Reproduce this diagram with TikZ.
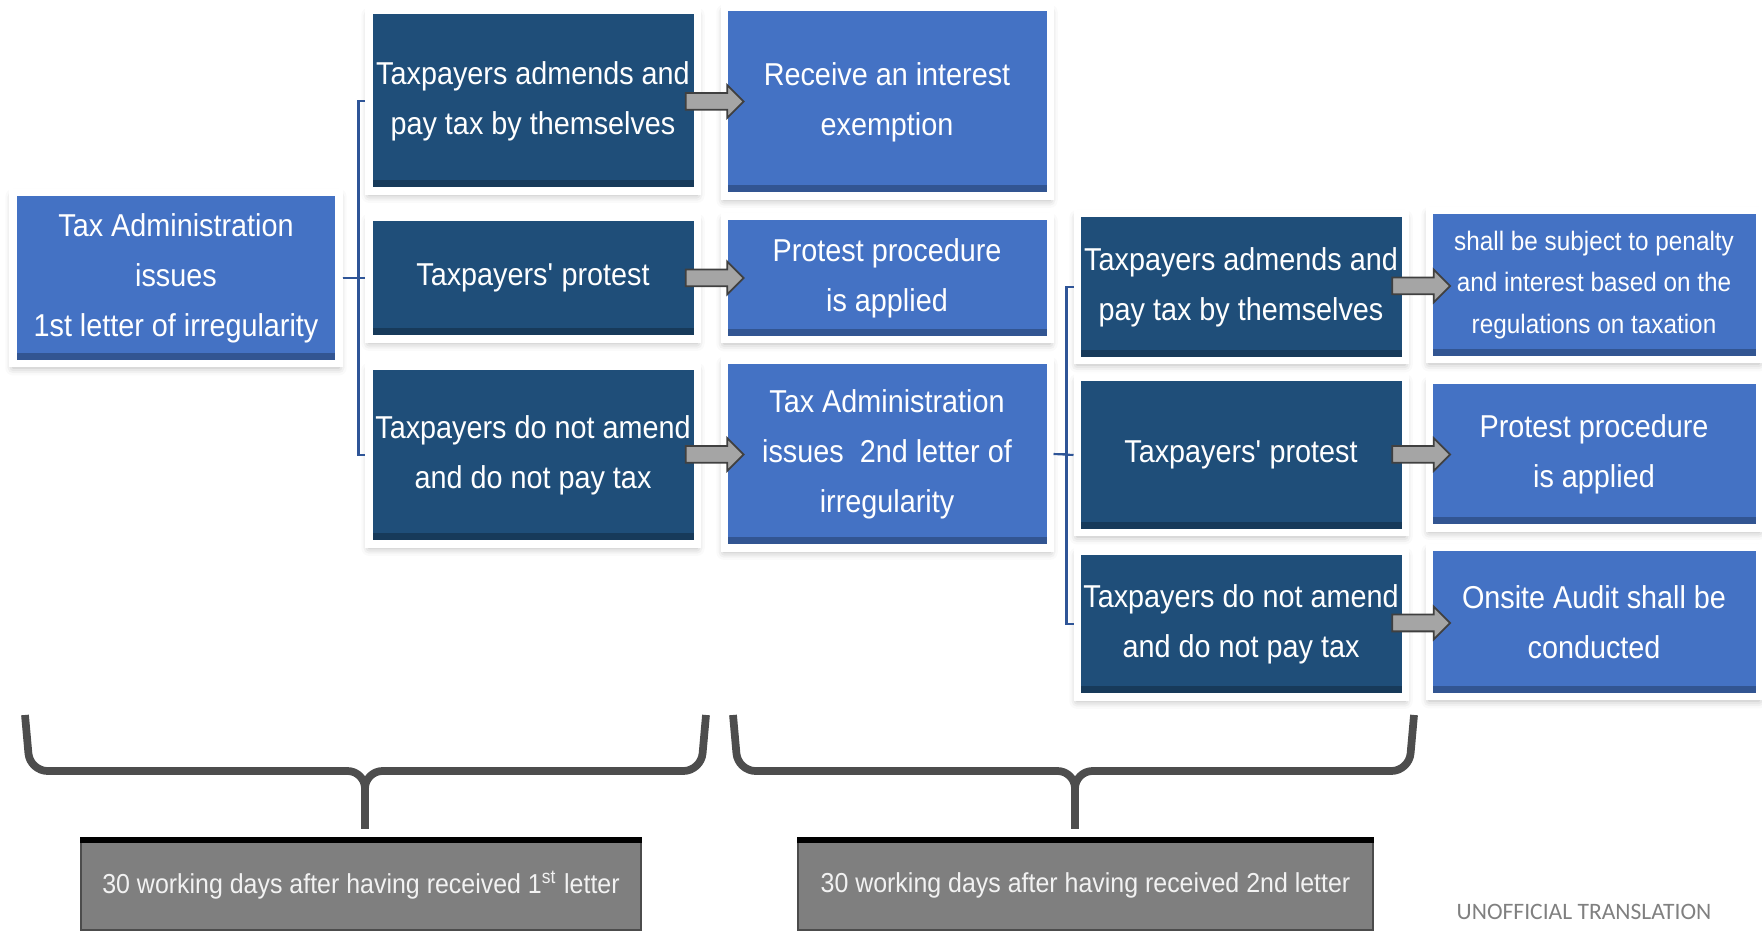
\documentclass[tikz,border=0pt]{standalone}
\usepackage{fontspec}
\setmainfont{Liberation Sans}[FakeStretch=0.91]
\newfontfamily\notefont{Carlito}
\usepackage{tikz}
\usetikzlibrary{
    arrows.meta,
    shadows.blur,
    calc,
    shapes.arrows
}

\definecolor{boxblue}{HTML}{4472C4}
\definecolor{boxnavy}{HTML}{1F4E79}
\definecolor{linkblue}{HTML}{2F5597}
\definecolor{arrowgray}{HTML}{A5A5A5}
\definecolor{bracegray}{HTML}{4D4D4D}
\definecolor{daygray}{HTML}{7F7F7F}

\begin{document}
\begin{tikzpicture}[
    stepbox/.style={
      draw=white,
      line width=2pt,
      text=white,
      align=center,
      inner sep=0pt,
      font=\fontsize{9}{14.2}\selectfont,
      blur shadow={shadow xshift=0pt, shadow yshift=-1.2pt,
        shadow blur radius=2.2pt, shadow opacity=30},
      path picture={\fill[black, opacity=0.25]
        (path picture bounding box.south west) rectangle
        ([yshift=3pt]path picture bounding box.south east);}
    },
    bluebox/.style={stepbox, fill=boxblue, minimum width=3.26cm},
    navybox/.style={stepbox, fill=boxnavy, minimum width=3.28cm},
    link/.style={draw=linkblue, line width=0.6pt},
    blockarrow/.style={
      single arrow,
      draw=black!75,
      fill=arrowgray,
      line width=0.5pt,
      inner sep=0.075cm,
      single arrow head extend=0.08cm,
      minimum height=0.58cm
    },
    bracket/.style={draw=bracegray, line width=2.2pt, rounded corners=5pt},
    daybox/.style={
      fill=daygray,
      draw=black!70,
      line width=0.5pt,
      text=white!95!black,
      font=\fontsize{7.8}{10}\selectfont,
      minimum height=0.89cm,
      inner sep=0pt
    }
  ]

  \useasboundingbox (0,0) rectangle (17.62,9.30);
  \clip (0,0) rectangle (17.62,9.30);

  % first letter {{{
  \node[
    bluebox,
    minimum height=1.71cm
  ] (txa) at (1.76,6.52)
  {Tax Administration\\issues\\1st letter of irregularity};
  % }}}

  % answers to first letter {{{
  \node[
    navybox,
    minimum height=1.80cm
  ] (c2a) at (5.33,8.29)
  {Taxpayers admends and\\pay tax by themselves};
  \node[
    navybox,
    minimum height=1.22cm
  ] (c2b) at (5.33,6.52)
  {Taxpayers\textquotesingle\ protest};
  \node[
    navybox,
    minimum height=1.78cm
  ] (c2c) at (5.33,4.75)
  {Taxpayers do not amend\\and do not pay tax};
  % }}}

  % results of first letter {{{
  \node[
    bluebox,
    minimum height=1.88cm
  ] (c3a) at (8.87,8.28)
  {Receive an interest\\exemption};
  \node[
    bluebox,
    minimum height=1.23cm
  ] (c3b) at (8.87,6.52)
  {Protest procedure\\is applied};
  \node[
    bluebox,
    minimum height=1.88cm
  ] (c3c) at (8.87,4.76)
  {Tax Administration\\issues\ \ 2nd letter of\\irregularity};
  % }}}

  % answers to second letter {{{
  \node[
    navybox,
    minimum height=1.47cm
  ] (c4a) at (12.41,6.43)
  {Taxpayers admends and\\pay tax by themselves};
  \node[
    navybox,
    minimum height=1.55cm
  ] (c4b) at (12.41,4.75)
  {Taxpayers\textquotesingle\ protest};
  \node[
    navybox,
    minimum height=1.46cm
  ] (c4c) at (12.41,3.06)
  {Taxpayers do not amend\\and do not pay tax};
  % }}}

  % results of second letter {{{
  \node[
    bluebox,
    minimum width=3.30cm,
    minimum height=1.49cm,
    font=\fontsize{7.6}{11.8}\selectfont
  ] (c5a) at (15.94,6.45)
  {shall be subject to penalty\\and interest based on the\\regulations on taxation};
  \node[
    bluebox,
    minimum width=3.30cm,
    minimum height=1.48cm
  ] (c5b) at (15.94,4.76)
  {Protest procedure\\is applied};
  \node[
    bluebox,
    minimum width=3.30cm,
    minimum height=1.49cm
  ] (c5c) at (15.94,3.08)
  {Onsite Audit shall be\\conducted};
  % }}}

  % links {{{
  \draw[link] (txa.east) -- ++(0.16,0) |- (c2a.west);
  \draw[link] (txa.east) -- (c2b.west);
  \draw[link] (txa.east) -- ++(0.16,0) |- (c2c.west);
  \draw[link] (c3c.east) -- ++(0.13,0) |- (c4a.west);
  \draw[link] (c3c.east) -- (c4b.west);
  \draw[link] (c3c.east) -- ++(0.13,0) |- (c4c.west);
  % }}}

  % block arrows {{{
  \node[blockarrow] (ar1) at ($(c2a.east)!0.5!(c3a.west)$) {};
  \node[blockarrow] (ar2) at ($(c2b.east)!0.5!(c3b.west)$) {};
  \node[blockarrow] (ar3) at ($(c2c.east)!0.5!(c3c.west)$) {};
  \node[blockarrow] (ar4) at ($(c4a.east)!0.5!(c5a.west)$) {};
  \node[blockarrow] (ar5) at ($(c4b.east)!0.5!(c5b.west)$) {};
  \node[blockarrow] (ar6) at ($(c4c.east)!0.5!(c5c.west)$) {};
  % }}}

  % time limits {{{
  \node[
    daybox,
    minimum width=5.60cm
  ] (d1) at (3.61,0.445)
  {30 working days after having received 1\textsuperscript{st} letter};
  \node[
    daybox,
    minimum width=5.75cm
  ] (d2) at (10.855,0.445)
  {30 working days after having received 2nd letter};
  \draw[line width=1.6pt] (d1.north west) -- (d1.north east);
  \draw[line width=1.6pt] (d2.north west) -- (d2.north east);

  \draw[bracket] (0.25,2.15) -- (0.30,1.59) -- (3.65,1.59) -- (3.65,1.01);
  \draw[bracket] (7.06,2.15) -- (7.01,1.59) -- (3.65,1.59) -- (3.65,1.01);
  \draw[bracket] (7.33,2.15) -- (7.38,1.59) -- (10.75,1.59) -- (10.75,1.01);
  \draw[bracket] (14.14,2.15) -- (14.09,1.59) -- (10.75,1.59) -- (10.75,1.01);
  % }}}

  \node[
    font=\notefont\fontsize{6.7}{8}\selectfont,
    text=black!50
  ] (note) at (15.84,0.18) {UNOFFICIAL TRANSLATION};

\end{tikzpicture}
\end{document}
